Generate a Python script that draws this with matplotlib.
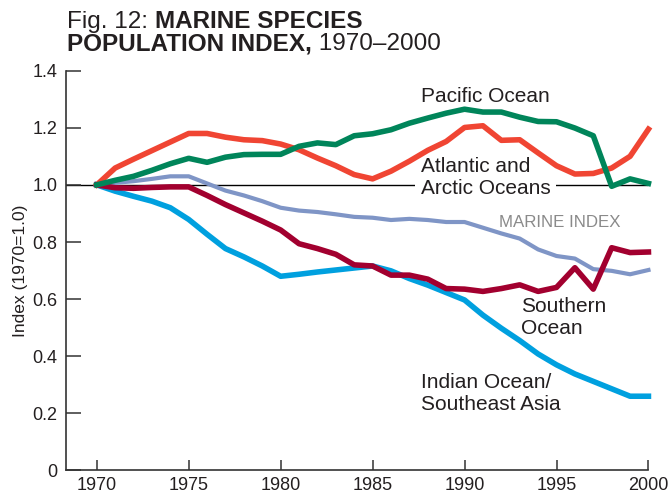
import matplotlib
matplotlib.use("Agg")
import matplotlib.pyplot as plt

plt.rcParams['font.family'] = ['Liberation Sans', 'DejaVu Sans']

years = list(range(1970, 2001))

pacific = [1.00, 1.016, 1.03, 1.051, 1.074, 1.093, 1.079, 1.097, 1.106, 1.107,
           1.107, 1.135, 1.147, 1.141, 1.172, 1.179, 1.193, 1.216, 1.234, 1.251,
           1.265, 1.255, 1.255, 1.237, 1.222, 1.221, 1.199, 1.172, 0.995, 1.021,
           1.005]
atlantic = [1.00, 1.059, 1.09, 1.12, 1.15, 1.18, 1.18, 1.167, 1.158, 1.155,
            1.143, 1.123, 1.094, 1.067, 1.036, 1.021, 1.048, 1.083, 1.121, 1.152,
            1.201, 1.207, 1.156, 1.158, 1.112, 1.067, 1.038, 1.04, 1.059, 1.10,
            1.195]
marine = [1.00, 1.007, 1.013, 1.021, 1.03, 1.03, 1.005, 0.98, 0.963, 0.943,
          0.92, 0.91, 0.905, 0.897, 0.888, 0.885, 0.877, 0.881, 0.877, 0.87,
          0.87, 0.85, 0.83, 0.812, 0.774, 0.751, 0.742, 0.705, 0.699, 0.687,
          0.702]
southern = [1.00, 0.99, 0.988, 0.991, 0.993, 0.993, 0.963, 0.931, 0.902, 0.873,
            0.842, 0.794, 0.777, 0.757, 0.72, 0.716, 0.684, 0.684, 0.67, 0.637,
            0.635, 0.627, 0.637, 0.65, 0.627, 0.641, 0.71, 0.635, 0.78, 0.763,
            0.765]
indian = [1.00, 0.978, 0.96, 0.943, 0.92, 0.879, 0.827, 0.777, 0.748, 0.716,
          0.68, 0.687, 0.695, 0.702, 0.709, 0.716, 0.699, 0.672, 0.649, 0.623,
          0.597, 0.544, 0.498, 0.455, 0.408, 0.37, 0.338, 0.312, 0.286, 0.26,
          0.26]

xticks = [1970, 1975, 1980, 1985, 1990, 1995, 2000]
yticks = [0, 0.2, 0.4, 0.6, 0.8, 1.0, 1.2, 1.4]
ytick_labels = ['0', '0.2', '0.4', '0.6', '0.8', '1.0', '1.2', '1.4']

TEXT = '#231f20'
W, H = 671, 494

fig = plt.figure(figsize=(6.71, 4.94), dpi=100)
ax = fig.add_axes([0.0984, 0.0476, 0.868, 0.8094])

ax.axhline(1.0, color='black', linewidth=1.0, zorder=1)

ax.plot(years, indian, color='#00a0df', linewidth=4.0, zorder=2, clip_on=False)
ax.plot(years, atlantic, color='#f04533', linewidth=4.0, zorder=3, clip_on=False)
ax.plot(years, marine, color='#7f95c6', linewidth=3.0, zorder=4, clip_on=False)
ax.plot(years, southern, color='#a2002f', linewidth=4.0, zorder=5, clip_on=False)
ax.plot(years, pacific, color='#00855a', linewidth=4.0, zorder=6, clip_on=False)

ax.set_xlim(1968.33, 2000)
ax.set_ylim(0, 1.4)
ax.set_xticks(xticks)
ax.set_yticks(yticks)
ax.set_yticklabels(ytick_labels)

for s in ['top', 'right']:
    ax.spines[s].set_visible(False)
for s in ['left', 'bottom']:
    ax.spines[s].set_color('#333333')
    ax.spines[s].set_linewidth(1.2)

ax.tick_params(axis='y', direction='in', length=11, width=1.1, color='#333333',
               labelsize=13, labelcolor=TEXT, pad=6)
ax.tick_params(axis='x', direction='in', length=7, width=1.1, color='#333333',
               labelsize=13, labelcolor=TEXT, pad=5)
ax.set_ylabel('Index (1970=1.0)', fontsize=12.5, color=TEXT, labelpad=3)


# series labels, placed in pixel coords (from top-left)
def put(x, y, s, size=15, color=TEXT, **kw):
    return fig.text(x / W, 1 - y / H, s, fontsize=size, color=color,
                    va='baseline', ha='left', **kw)


put(421, 101.5, 'Pacific Ocean')
put(421, 172.5, 'Atlantic and', zorder=10)
t = put(421, 194, 'Arctic Oceans', zorder=10)
t.set_bbox(dict(facecolor='white', edgecolor='none', pad=4))
put(499, 227, 'MARINE INDEX', size=12.2, color='#8a8a8a')
put(521, 312.5, 'Southern')
put(521, 334, 'Ocean')
put(421, 388, 'Indian Ocean/')
put(421, 409.5, 'Southeast Asia')

# title in mixed weights
renderer = fig.canvas.get_renderer()


def title_line(parts, y):
    x = 67
    for s, w in parts:
        tt = fig.text(x / W, 1 - y / H, s, fontsize=17.5, fontweight=w,
                      color=TEXT, va='baseline', ha='left')
        x += tt.get_window_extent(renderer).width


title_line([('Fig. 12: ', 'normal'), ('MARINE SPECIES', 'bold')], 28)
title_line([('POPULATION INDEX,', 'bold'), ('\u00a01970\u20132000', 'normal')], 50)

fig.savefig('out.png', dpi=100)
